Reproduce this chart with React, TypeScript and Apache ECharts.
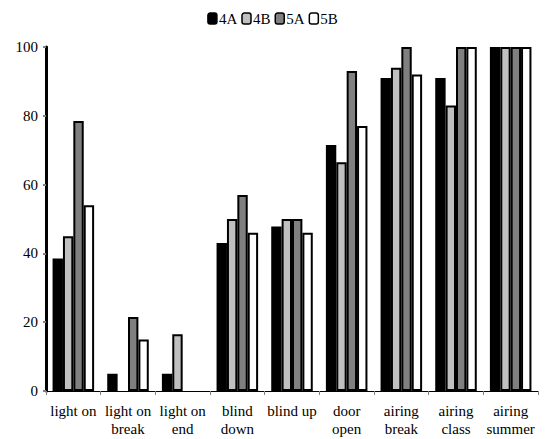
import React, { useEffect, useRef } from "react";
import * as echarts from "echarts";

const categories = [
  "light on",
  "light on\nbreak",
  "light on\nend",
  "blind\ndown",
  "blind up",
  "door\nopen",
  "airing\nbreak",
  "airing\nclass",
  "airing\nsummer",
];
const s4A = [38.5, 5, 5, 43, 47.8, 71.5, 91, 91, 100];
const s4B = [45, 0, 16.5, 50, 50, 66.5, 94, 83, 100];
const s5A = [78.5, 21.5, 0, 57, 50, 93, 100, 100, 100];
const s5B = [54, 15, 0, 46, 46, 77, 92, 100, 100];
const seriesNames = ["4A", "4B", "5A", "5B"];
const seriesColors = ["#000000", "#c0c0c0", "#808080", "#ffffff"];
const yTicks = [0, 20, 40, 60, 80, 100];

export default function App() {
  const ref = useRef<HTMLDivElement>(null);
  useEffect(() => {
    if (!ref.current) return;
    const chart = echarts.init(ref.current, null, { renderer: "svg" });
    const data = [s4A, s4B, s5A, s5B];
    const font = "Times New Roman";
    chart.setOption({
      animation: false,
      backgroundColor: "#ffffff",
      textStyle: { fontFamily: font },
      legend: {
        top: 6,
        left: "center",
        itemWidth: 9,
        itemHeight: 11,
        itemGap: 4,
        textStyle: { fontFamily: font, fontSize: 15, color: "#000", padding: [0, 0, 0, -3] },
        data: seriesNames.map((n, i) => ({
          name: n,
          itemStyle: { color: seriesColors[i], borderColor: "#000", borderWidth: 1.5 },
        })),
      },
      grid: { left: 46, right: 7, top: 47, bottom: 48, containLabel: false },
      xAxis: {
        type: "category",
        data: categories,
        axisLine: { lineStyle: { color: "#000", width: 1 } },
        axisTick: { show: true, length: 4, lineStyle: { color: "#808080" } },
        axisLabel: {
          fontFamily: font,
          fontSize: 15,
          color: "#000",
          interval: 0,
          margin: 11,
          lineHeight: 18,
        },
      },
      yAxis: {
        type: "value",
        min: 0,
        max: 100,
        interval: 20,
        axisLine: { show: true, lineStyle: { color: "#000", width: 3 } },
        axisTick: { show: true, length: 3, lineStyle: { color: "#808080", width: 2 } },
        splitLine: { show: false },
        axisLabel: {
          fontFamily: font,
          fontSize: 15,
          color: "#000",
          margin: 8,
          formatter: (v: number) => (yTicks.includes(v) ? String(v) : ""),
        },
      },
      series: seriesNames.map((n, i) => ({
        name: n,
        type: "bar",
        data: data[i].map((v) =>
          v === 0 ? { value: v, itemStyle: { borderWidth: 0 } } : v
        ),
        barGap: "0%",
        barCategoryGap: "24%",
        itemStyle: {
          color: seriesColors[i],
          borderColor: "#000",
          borderWidth: 2,
        },
      })),
    });
    return () => chart.dispose();
  }, []);
  return (
    <div
      ref={ref}
      style={{ position: "absolute", left: 0, top: 0, width: 545, height: 439 }}
    />
  );
}
